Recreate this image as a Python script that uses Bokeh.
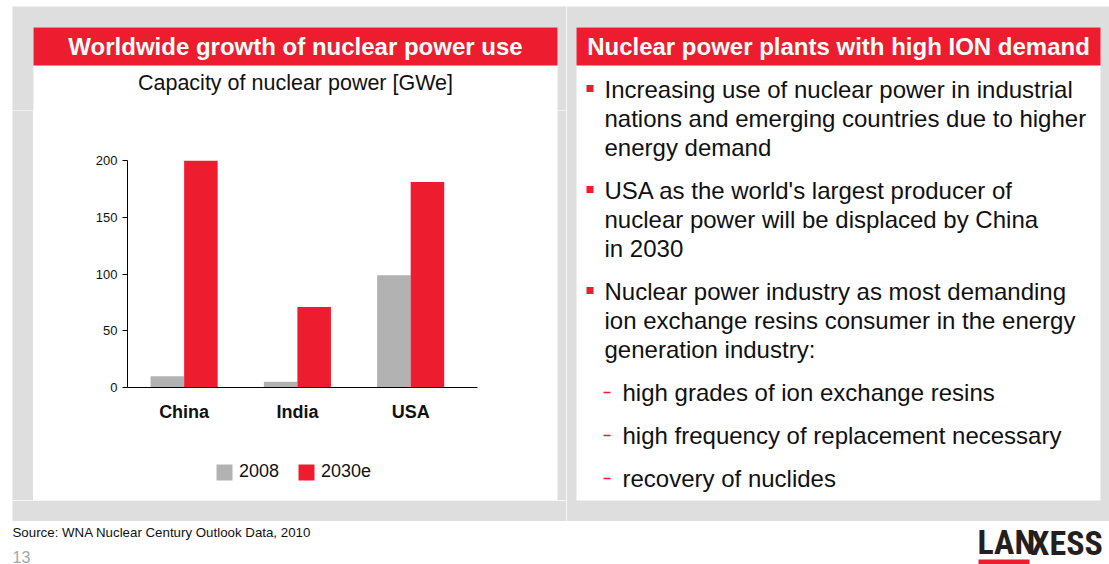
from bokeh.plotting import figure
from bokeh.layouts import column, row
from bokeh.models import (Range1d, ColumnDataSource, Legend, LegendItem, FixedTicker)
from bokeh.core.properties import value
from bokeh.embed import file_html
from bokeh.resources import INLINE

# ---------------- data ----------------
categories = ["China", "India", "USA"]
cap_2008 = [10, 5, 99]
cap_2030e = [200, 71, 181]
series_labels = ["2008", "2030e"]
y_ticks = [0, 50, 100, 150, 200]

left_header = "Worldwide growth of nuclear power use"
chart_title = "Capacity of nuclear power [GWe]"
right_header = "Nuclear power plants with high ION demand"
bullet_groups = [
    ["Increasing use of nuclear power in industrial",
     "nations and emerging countries due to higher",
     "energy demand"],
    ["USA as the world's largest producer of",
     "nuclear power will be displaced by China",
     "in 2030"],
    ["Nuclear power industry as most demanding",
     "ion exchange resins consumer in the energy",
     "generation industry:"],
]
dash_items = ["high grades of ion exchange resins",
              "high frequency of replacement necessary",
              "recovery of nuclides"]
source_text = "Source: WNA Nuclear Century Outlook Data, 2010"
page_number = "13"
logo_parts = ["LAN", "XESS"]

# ---------------- style ----------------
RED = "#ED1C2E"
GREY_BG = "#DEDEDE"
BAR_GREY = "#B2B2B2"
TXT = "#111111"
FONT_NAME = "Liberation Sans"
FONT = value(FONT_NAME)
LOGO_FONT = value("Roboto Condensed, Liberation Sans Narrow, DejaVu Sans Condensed, Liberation Sans")


def tile(w, h, x0, x1, y0, y1, bg="white"):
    f = figure(width=w, height=h, x_range=Range1d(x0, x1), y_range=Range1d(y1, y0),
               toolbar_location=None, output_backend="svg", min_border=0,
               x_axis_type=None, y_axis_type=None,
               background_fill_color=bg, border_fill_color=bg,
               outline_line_color=None)
    return f


def box(f, l, r, t, b, color):
    f.quad(left=[l], right=[r], top=[t], bottom=[b], fill_color=color, line_color=None)


# ---- left: header tile (x 0..566, y 0..110)
L1 = tile(566, 110, 0, 566, 0, 110)
box(L1, 12, 566, 6, 110, GREY_BG)
box(L1, 33, 557, 27, 110, "white")
box(L1, 33, 557, 27, 65, RED)
L1.text(x=[295], y=[46], text=[left_header], text_font=FONT, text_font_style="bold",
        text_font_size="24px", text_color="white", text_align="center", text_baseline="middle")
L1.text(x=[295], y=[82], text=[chart_title], text_font=FONT,
        text_font_size="21.5px", text_color=TXT, text_align="center", text_baseline="middle")

# ---- left: chart (x 33..557, y 110..445)
xpos = [i + 0.5 for i in range(len(categories))]
src = ColumnDataSource(dict(x08=[v - 0.148 for v in xpos], x30=[v + 0.148 for v in xpos],
                            y08=cap_2008, y30=cap_2030e))
chart = figure(width=524, height=335, x_range=Range1d(0, 3.09),
               y_range=Range1d(0, 200), toolbar_location=None, output_backend="svg",
               min_border_left=94, min_border_right=80, min_border_top=50,
               min_border_bottom=58, background_fill_color="white",
               border_fill_color="white", outline_line_color=None)
r1 = chart.vbar(x="x08", top="y08", width=0.296, source=src,
                fill_color=BAR_GREY, line_color=None)
r2 = chart.vbar(x="x30", top="y30", width=0.296, source=src,
                fill_color=RED, line_color=None)
chart.xgrid.visible = False
chart.ygrid.visible = False
chart.yaxis.ticker = FixedTicker(ticks=y_ticks)
chart.yaxis.minor_tick_line_color = None
chart.yaxis.major_tick_in = 0
chart.yaxis.major_tick_out = 5
chart.yaxis.major_label_standoff = 5
chart.yaxis.major_label_text_font = FONT_NAME
chart.yaxis.major_label_text_font_size = "13px"
chart.yaxis.major_label_text_color = TXT
chart.yaxis.axis_line_color = "black"
chart.yaxis.major_tick_line_color = "black"
chart.xaxis.ticker = FixedTicker(ticks=xpos)
chart.xaxis.major_label_overrides = {v: c for v, c in zip(xpos, categories)}
chart.xaxis.major_tick_line_color = None
chart.xaxis.major_tick_in = 0
chart.xaxis.major_tick_out = 0
chart.xaxis.minor_tick_line_color = None
chart.xaxis.axis_line_color = "black"
chart.xaxis.major_label_standoff = 14
chart.xaxis.major_label_text_font = FONT_NAME
chart.xaxis.major_label_text_font_style = "bold"
chart.xaxis.major_label_text_font_size = "18px"
chart.xaxis.major_label_text_color = TXT

# ---- legend strip under the chart (x 33..557, y 445..500); its bars share the
# chart's source but sit outside the strip's y range, so only the legend shows
LEG = figure(width=524, height=55, x_range=chart.x_range, y_range=Range1d(1000, 1100),
             toolbar_location=None, output_backend="svg",
             min_border_left=94, min_border_right=80, min_border_top=0, min_border_bottom=0,
             x_axis_type=None, y_axis_type=None, background_fill_color="white",
             border_fill_color="white", outline_line_color=None)
lr1 = LEG.vbar(x="x08", top="y08", width=0.296, source=src,
               fill_color=BAR_GREY, line_color=None)
lr2 = LEG.vbar(x="x30", top="y30", width=0.296, source=src,
               fill_color=RED, line_color=None)
legend = Legend(items=[LegendItem(label=series_labels[0], renderers=[lr1]),
                       LegendItem(label=series_labels[1], renderers=[lr2])],
                orientation="horizontal", location=(87, 18),
                glyph_width=20, glyph_height=20, label_height=20,
                label_text_font=FONT_NAME, label_text_font_size="18px",
                label_text_color=TXT, label_standoff=5, spacing=17,
                padding=0, margin=0, border_line_color=None,
                background_fill_alpha=0)
LEG.add_layout(legend)

W1 = tile(12, 390, 0, 12, 110, 500, "white")
G1 = tile(21, 390, 12, 33, 110, 500, GREY_BG)
G2 = tile(9, 390, 557, 566, 110, 500, GREY_BG)
L3 = tile(566, 21, 0, 566, 500, 521)
box(L3, 12, 566, 500, 521, GREY_BG)

# ---- right panel (x 566..1109, y 0..521)
R = tile(543, 521, 566, 1109, 0, 521)
box(R, 566, 1109, 6, 521, GREY_BG)
box(R, 576, 1100, 27, 500, "white")
box(R, 576, 1100, 27, 65, RED)
R.text(x=[838], y=[46], text=[right_header], text_font=FONT, text_font_style="bold",
       text_font_size="24px", text_color="white", text_align="center", text_baseline="middle")

line_x, line_y, line_t = [], [], []
sq_y = []
y = 89
for grp in bullet_groups:
    sq_y.append(y - 1)
    for t in grp:
        line_x.append(604)
        line_y.append(y)
        line_t.append(t)
        y += 29
    y += 14
dash_y = []
for t in dash_items:
    line_x.append(622)
    line_y.append(y)
    line_t.append(t)
    dash_y.append(y)
    y += 43
R.text(x=line_x, y=line_y, text=line_t, text_font=FONT, text_font_size="24px",
       text_color=TXT, text_align="left", text_baseline="middle")
R.quad(left=[586] * len(sq_y), right=[593] * len(sq_y),
       top=[v - 3.5 for v in sq_y], bottom=[v + 3.5 for v in sq_y],
       fill_color=RED, line_color=None)
R.segment(x0=[603] * len(dash_y), x1=[610] * len(dash_y), y0=dash_y, y1=dash_y,
          line_color=RED, line_width=1.6)

# ---- footer (x 0..1109, y 521..564)
B = tile(1109, 43, 0, 1109, 521, 564)
B.text(x=[12], y=[532], text=[source_text], text_font=FONT, text_font_size="13.3px",
       text_color=TXT, text_align="left", text_baseline="middle")
B.text(x=[12], y=[556], text=[page_number], text_font=FONT, text_font_size="16px",
       text_color="#A6A6A6", text_align="left", text_baseline="middle")
B.text(x=[977], y=[541], text=[logo_parts[0]], text_font=LOGO_FONT,
       text_font_style="bold", text_font_size="34px", text_color="#231F20",
       text_align="left", text_baseline="middle")
B.text(x=[1030], y=[542], text=[logo_parts[1]], text_font=LOGO_FONT,
       text_font_style="bold", text_font_size="34px", text_color="#231F20",
       text_align="left", text_baseline="middle")
box(B, 978, 1029, 559, 564, RED)

page = column(row(column(L1, row(W1, G1, column(chart, LEG), G2), L3), R), B)

open("out.html", "w").write(file_html(page, INLINE))
